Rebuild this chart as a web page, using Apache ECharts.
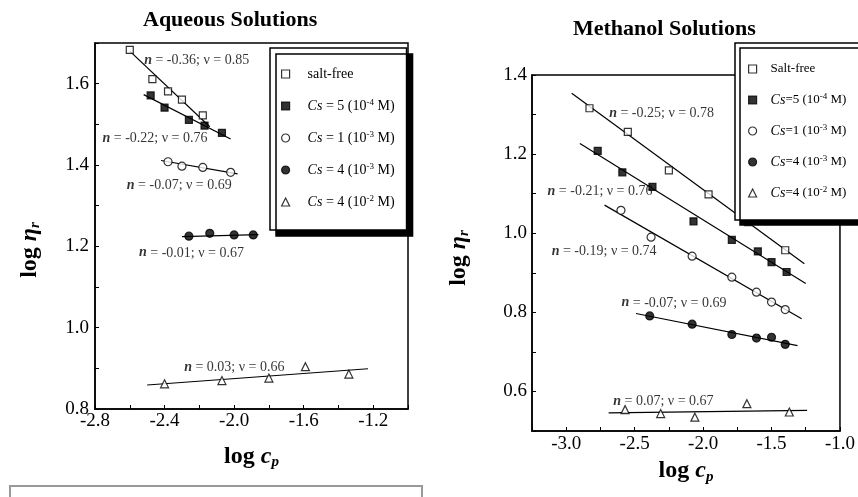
<!DOCTYPE html>
<html>
<head>
<meta charset="utf-8">
<script src="https://cdn.jsdelivr.net/npm/echarts@6/dist/echarts.min.js"></script>
<style>
  html, body { margin: 0; padding: 0; background: #fff; }
  #main { width: 858px; height: 497px; }
</style>
</head>
<body>
<div id="main"></div>
<script>
// 水溶液 (左图)
var aqSaltX = [-2.60, -2.47, -2.38, -2.30, -2.18];
var aqSaltY = [1.683, 1.611, 1.581, 1.561, 1.522];
var aqCs5e4X = [-2.48, -2.40, -2.26, -2.17, -2.07];
var aqCs5e4Y = [1.571, 1.541, 1.511, 1.497, 1.479];
var aqCs1e3X = [-2.38, -2.30, -2.18, -2.02];
var aqCs1e3Y = [1.408, 1.397, 1.394, 1.382];
var aqCs4e3X = [-2.26, -2.14, -2.00, -1.89];
var aqCs4e3Y = [1.225, 1.232, 1.228, 1.228];
var aqCs4e2X = [-2.40, -2.07, -1.80, -1.59, -1.34];
var aqCs4e2Y = [0.862, 0.870, 0.876, 0.904, 0.886];
// 拟合直线端点
var aqFitX = [[-2.60, -2.14], [-2.52, -2.02], [-2.42, -1.98], [-2.30, -1.86], [-2.50, -1.23]];
var aqFitY = [[1.680, 1.494], [1.573, 1.464], [1.411, 1.378], [1.224, 1.229], [0.859, 0.899]];
var aqNotes = ['n = -0.36; ν = 0.85', 'n = -0.22; ν = 0.76', 'n = -0.07; ν = 0.69', 'n = -0.01; ν = 0.67', 'n = 0.03; ν = 0.66'];
var aqNoteX = [-2.52, -2.76, -2.62, -2.55, -2.29];
var aqNoteY = [1.657, 1.466, 1.349, 1.184, 0.903];

// 甲醇溶液 (右图)
var meSaltX = [-2.83, -2.55, -2.25, -1.96, -1.67, -1.40];
var meSaltY = [1.316, 1.256, 1.159, 1.098, 1.028, 0.957];
var meCs5e4X = [-2.77, -2.59, -2.37, -2.07, -1.79, -1.60, -1.50, -1.39];
var meCs5e4Y = [1.208, 1.154, 1.117, 1.030, 0.983, 0.954, 0.927, 0.902];
var meCs1e3X = [-2.60, -2.38, -2.08, -1.79, -1.61, -1.50, -1.40];
var meCs1e3Y = [1.058, 0.990, 0.942, 0.889, 0.851, 0.826, 0.807];
var meCs4e3X = [-2.39, -2.08, -1.79, -1.61, -1.50, -1.40];
var meCs4e3Y = [0.791, 0.770, 0.744, 0.735, 0.737, 0.719];
var meCs4e2X = [-2.57, -2.31, -2.06, -1.68, -1.37];
var meCs4e2Y = [0.554, 0.544, 0.535, 0.569, 0.548];
var meFitX = [[-2.96, -1.26], [-2.90, -1.25], [-2.72, -1.28], [-2.49, -1.31], [-2.69, -1.24]];
var meFitY = [[1.354, 0.923], [1.227, 0.873], [1.071, 0.784], [0.797, 0.716], [0.546, 0.552]];
var meNotes = ['n = -0.25; ν = 0.78', 'n = -0.21; ν = 0.76', 'n = -0.19; ν = 0.74', 'n = -0.07; ν = 0.69', 'n = 0.07; ν = 0.67'];
var meNoteX = [-2.69, -3.14, -3.11, -2.60, -2.66];
var meNoteY = [1.303, 1.105, 0.953, 0.824, 0.575];

var aqLegend = ['salt-free', '{i|Cs} = 5 (10{sup|-4} M)', '{i|Cs} = 1 (10{sup|-3} M)', '{i|Cs} = 4 (10{sup|-3} M)', '{i|Cs} = 4 (10{sup|-2} M)'];
var meLegend = ['Salt-free', '{i|Cs}=5 (10{sup|-4} M)', '{i|Cs}=1 (10{sup|-3} M)', '{i|Cs}=4 (10{sup|-3} M)', '{i|Cs}=4 (10{sup|-2} M)'];

var FONT = 'Liberation Serif';
var symbols = ['rect', 'rect', 'circle', 'circle', 'triangle'];
var symbolSizes = [7, 7, 8, 8, 8];
var filled = [false, true, false, true, false];

function zip(xs, ys) {
  return xs.map(function (x, i) { return [x, ys[i]]; });
}

function noteText(s) {
  return '{n|n}' + s.slice(1);
}

var legendText = {};
aqLegend.forEach(function (t, i) { legendText['aq' + i] = t; });
meLegend.forEach(function (t, i) { legendText['me' + i] = t; });

var series = [];

function addPanel(prefix, gi, xsList, ysList, fitX, fitY, notes, noteX, noteY) {
  for (var i = 0; i < xsList.length; i++) {
    series.push({
      type: 'line',
      xAxisIndex: gi, yAxisIndex: gi,
      data: zip(fitX[i], fitY[i]),
      symbol: 'none',
      silent: true,
      lineStyle: { color: '#000', width: 1.2 },
      z: 2
    });
  }
  for (var j = 0; j < xsList.length; j++) {
    series.push({
      name: prefix + j,
      type: 'scatter',
      xAxisIndex: gi, yAxisIndex: gi,
      data: zip(xsList[j], ysList[j]),
      symbol: symbols[j],
      symbolSize: symbolSizes[j],
      itemStyle: {
        color: filled[j] ? '#000' : '#fff',
        borderColor: '#000',
        borderWidth: 1.2
      },
      z: 3
    });
  }
  // 标注文字
  series.push({
    type: 'scatter',
    xAxisIndex: gi, yAxisIndex: gi,
    data: zip(noteX, noteY),
    symbolSize: 1,
    itemStyle: { color: 'rgba(0,0,0,0)' },
    silent: true,
    label: {
      show: true,
      position: 'right',
      distance: 0,
      color: '#000',
      fontFamily: FONT,
      fontSize: 14,
      formatter: function (p) { return noteText(notes[p.dataIndex]); },
      rich: {
        n: { fontFamily: FONT, fontSize: 14, fontStyle: 'italic', fontWeight: 'bold', color: '#000' }
      }
    },
    z: 4
  });
}

addPanel('aq', 0, [aqSaltX, aqCs5e4X, aqCs1e3X, aqCs4e3X, aqCs4e2X],
  [aqSaltY, aqCs5e4Y, aqCs1e3Y, aqCs4e3Y, aqCs4e2Y], aqFitX, aqFitY, aqNotes, aqNoteX, aqNoteY);
addPanel('me', 1, [meSaltX, meCs5e4X, meCs1e3X, meCs4e3X, meCs4e2X],
  [meSaltY, meCs5e4Y, meCs1e3Y, meCs4e3Y, meCs4e2Y], meFitX, meFitY, meNotes, meNoteX, meNoteY);

var labelStyle = { color: '#000', fontFamily: FONT, fontSize: 19 };
var nameRich = {
  b: { fontFamily: FONT, fontSize: 24, fontWeight: 'bold', color: '#000' },
  i: { fontFamily: FONT, fontSize: 24, fontWeight: 'bold', fontStyle: 'italic', color: '#000' },
  sub: { fontFamily: FONT, fontSize: 15, fontWeight: 'bold', fontStyle: 'italic', color: '#000', verticalAlign: 'bottom', padding: [12, 0, 0, 0] }
};

function mk(extra) {
  var o = {
    type: 'value',
    splitLine: { show: false },
    axisLine: { show: true, onZero: false, lineStyle: { color: '#000', width: 1.5 } },
    axisTick: { show: true, inside: true, length: 4, lineStyle: { color: '#000' } }
  };
  for (var k in extra) o[k] = extra[k];
  return o;
}

var legendRich = {
  i: { fontFamily: FONT, fontSize: 14, fontStyle: 'italic', color: '#000' },
  sup: { fontFamily: FONT, fontSize: 9, color: '#000', verticalAlign: 'top' }
};

var option = {
  backgroundColor: '#fff',
  animation: false,
  title: [
    { text: 'Aqueous Solutions', left: 143, top: 9, padding: 0,
      textStyle: { fontFamily: FONT, fontSize: 22, fontWeight: 'bold', color: '#000' } },
    { text: 'Methanol Solutions', left: 573, top: 18, padding: 0,
      textStyle: { fontFamily: FONT, fontSize: 22, fontWeight: 'bold', color: '#000' } }
  ],
  grid: [
    { left: 95, top: 43, width: 313, height: 366, show: true, borderColor: '#000', borderWidth: 1.5, backgroundColor: '#fff' },
    { left: 532, top: 75, width: 310, height: 356, show: true, borderColor: '#000', borderWidth: 1.5, backgroundColor: '#fff' }
  ],
  xAxis: [
    mk({
      gridIndex: 0, min: -2.8, max: -1.0, interval: 0.2,
      name: '{b|log }{i|c}{sub|p}', nameLocation: 'middle', nameGap: 34,
      nameTextStyle: { rich: nameRich },
      axisLabel: Object.assign({ margin: 3, formatter: function (v) {
        var k = Math.round(v * 10); return k % 4 === 0 ? v.toFixed(1) : '';
      } }, labelStyle)
    }),
    mk({
      gridIndex: 1, min: -3.25, max: -1.0, interval: 0.25,
      name: '{b|log }{i|c}{sub|p}', nameLocation: 'middle', nameGap: 26,
      nameTextStyle: { rich: nameRich },
      axisLabel: Object.assign({ margin: 4, formatter: function (v) {
        var k = Math.round(v * 100); return k % 50 === 0 ? v.toFixed(1) : '';
      } }, labelStyle)
    })
  ],
  yAxis: [
    mk({
      gridIndex: 0, min: 0.8, max: 1.7, interval: 0.1,
      name: '{b|log }{i|η}{sub|r}', nameLocation: 'middle', nameGap: 52,
      nameTextStyle: { rich: nameRich, padding: [0, 48, 0, 0] },
      axisLabel: Object.assign({ margin: 6, formatter: function (v) {
        var k = Math.round(v * 10); return k % 2 === 0 ? v.toFixed(1) : '';
      } }, labelStyle)
    }),
    mk({
      gridIndex: 1, min: 0.5, max: 1.4, interval: 0.1,
      name: '{b|log }{i|η}{sub|r}', nameLocation: 'middle', nameGap: 60,
      nameTextStyle: { rich: nameRich, padding: [0, 10, 0, 0] },
      axisLabel: Object.assign({ margin: 5, formatter: function (v) {
        var k = Math.round(v * 10); return k % 2 === 0 ? v.toFixed(1) : '';
      } }, labelStyle)
    })
  ],
  legend: [
    {
      data: ['aq0', 'aq1', 'aq2', 'aq3', 'aq4'],
      orient: 'vertical', left: 270, top: 48,
      padding: [18, 12, 20, 11],
      itemWidth: 8, itemHeight: 8, itemGap: 16,
      backgroundColor: '#fff', borderColor: '#000', borderWidth: 1.5,
      shadowColor: '#000', shadowBlur: 0, shadowOffsetX: 6, shadowOffsetY: 6,
      selectedMode: false,
      itemStyle: { borderWidth: 1.2 },
      textStyle: { fontFamily: FONT, fontSize: 14, lineHeight: 16, color: '#000', padding: [0, 0, 0, 13], rich: legendRich },
      formatter: function (name) { return legendText[name]; }
    },
    {
      data: ['me0', 'me1', 'me2', 'me3', 'me4'],
      orient: 'vertical', left: 735, top: 43,
      padding: [18, 30, 19, 13],
      itemWidth: 8, itemHeight: 8, itemGap: 15,
      backgroundColor: '#fff', borderColor: '#000', borderWidth: 1.5,
      shadowColor: '#000', shadowBlur: 0, shadowOffsetX: 5, shadowOffsetY: 5,
      selectedMode: false,
      itemStyle: { borderWidth: 1.2 },
      textStyle: { fontFamily: FONT, fontSize: 13, lineHeight: 16, color: '#000', padding: [0, 0, 0, 9], rich: legendRich },
      formatter: function (name) { return legendText[name]; }
    }
  ],
  graphic: [
    { type: 'rect', shape: { x: 10, y: 486, width: 412, height: 30 },
      style: { fill: 'none', stroke: '#999', lineWidth: 2 }, silent: true }
  ],
  series: series
};

var chart = echarts.init(document.getElementById('main'));
chart.setOption(option);
</script>
</body>
</html>
